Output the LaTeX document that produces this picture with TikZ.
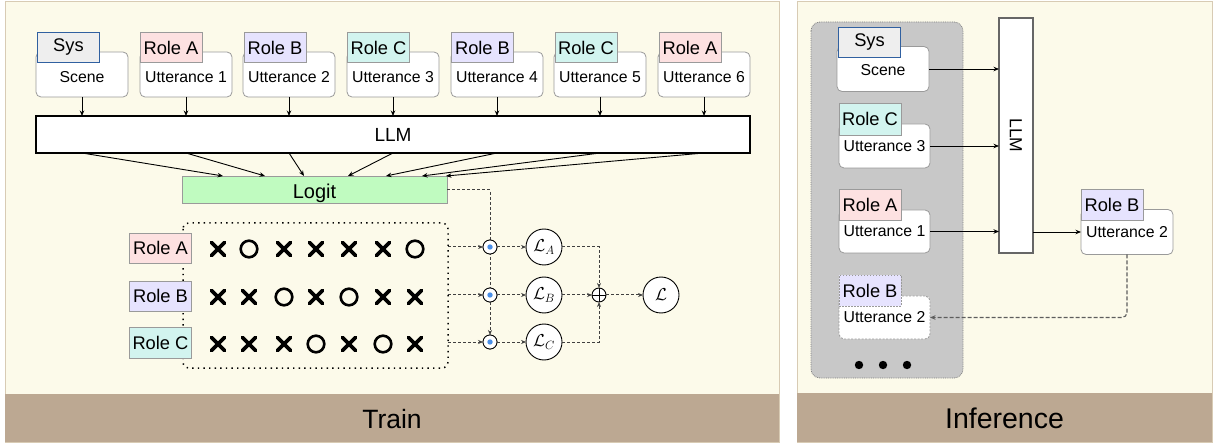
\documentclass[tikz,border=0pt]{standalone}
\usepackage{fontspec}
\setmainfont{Liberation Sans}
\usetikzlibrary{arrows.meta}
\definecolor{cream}{HTML}{FCFAEA}
\definecolor{panelline}{HTML}{D8CBB4}
\definecolor{barc}{HTML}{BCA892}
\definecolor{pinkc}{HTML}{FDE1E1}
\definecolor{purplec}{HTML}{E6E3FE}
\definecolor{cyanc}{HTML}{D2F4EF}
\definecolor{greenc}{HTML}{C0FBC0}
\definecolor{sysfill}{HTML}{EEEEEE}
\definecolor{sysline}{HTML}{3060A0}
\definecolor{boxline}{HTML}{9A9A9A}
\definecolor{grayback}{HTML}{C8C8C8}
\definecolor{dotblue}{HTML}{4A8FE7}
\definecolor{dashc}{HTML}{404040}
\tikzset{
  ubox/.style={draw=boxline, fill=white, line width=0.8pt, rounded corners=5pt, inner sep=0pt, outer sep=0pt, minimum width=92pt, minimum height=45pt, font=\fontsize{15.8}{17}\selectfont},
  lowtext/.style={text height=17pt, text depth=0pt},
  tabbox/.style={draw=boxline, line width=0.8pt, inner sep=0pt, outer sep=0pt, minimum width=62pt, minimum height=30pt, font=\fontsize{18.3}{20}\selectfont},
  systab/.style={tabbox, draw=sysline, fill=sysfill},
  arr/.style={-{Stealth[length=5.5pt,width=4.5pt]}, line width=0.9pt},
  darr/.style={-{Stealth[length=5pt,width=4pt]}, line width=1pt, draw=dashc, dash pattern=on 3pt off 2pt},
  dotc/.style={circle, draw, fill=white, line width=0.8pt, minimum size=14pt, inner sep=0pt, outer sep=0pt},
  lossc/.style={circle, draw, fill=white, line width=0.9pt, minimum size=36pt, inner sep=0pt, outer sep=0pt, font=\fontsize{18}{20}\selectfont},
  xmk/.style={line width=3.6pt, line cap=round},
  omk/.style={line width=2.6pt},
}
\newcommand{\XM}[2]{\draw[xmk] (#1-6.5,#2-6.5) -- (#1+6.5,#2+6.5) (#1-6.5,#2+6.5) -- (#1+6.5,#2-6.5);}
\newcommand{\OM}[2]{\draw[omk] (#1,#2) circle (8.3);}
\begin{document}
\begin{tikzpicture}[x=1pt,y=-1pt]
\useasboundingbox (0,0) rectangle (1214,443);
% panels
\draw[panelline, fill=cream, line width=1pt] (5,2) rectangle (779,442);
\fill[barc] (5,394) rectangle (779,442);
\node[font=\fontsize{26.5}{30}\selectfont] (trainlbl) at (392,419) {Train};
\draw[panelline, fill=cream, line width=1pt] (797,2) rectangle (1212,442);
\fill[barc] (797,393) rectangle (1212,442);
\node[font=\fontsize{28.5}{32}\selectfont] (inflbl) at (1004.5,418) {Inference};

% ---------- Train: top inputs
\node[ubox, lowtext] (b1) at (82,74.5) {Scene};
\node[ubox, lowtext] (b2) at (186,74.5) {Utterance 1};
\node[ubox, lowtext] (b3) at (289,74.5) {Utterance 2};
\node[ubox, lowtext] (b4) at (393,74.5) {Utterance 3};
\node[ubox, lowtext] (b5) at (497,74.5) {Utterance 4};
\node[ubox, lowtext] (b6) at (600,74.5) {Utterance 5};
\node[ubox, lowtext] (b7) at (704,74.5) {Utterance 6};
\node[systab] (t1) at (68.5,47) {Sys};
\node[tabbox, fill=pinkc] (t2) at (171,47.5) {Role A};
\node[tabbox, fill=purplec] (t3) at (275,47.5) {Role B};
\node[tabbox, fill=cyanc] (t4) at (378.5,47.5) {Role C};
\node[tabbox, fill=purplec] (t5) at (482.5,47.5) {Role B};
\node[tabbox, fill=cyanc] (t6) at (586,47.5) {Role C};
\node[tabbox, fill=pinkc] (t7) at (690,47.5) {Role A};

% LLM
\node[draw, fill=white, line width=1.8pt, minimum width=714pt, minimum height=37pt, inner sep=0pt, outer sep=0pt, font=\fontsize{19}{21}\selectfont] (llm) at (393,134.5) {LLM};
\foreach \i in {1,...,7} {\draw[arr] (b\i.south) -- (b\i.south |- llm.north);}

% Logit
\node[draw=boxline, fill=greenc, line width=0.8pt, minimum width=265pt, minimum height=27pt, inner sep=0pt, outer sep=0pt, font=\fontsize{20}{22}\selectfont, text height=18pt, text depth=0pt] (logit) at (314.5,189.5) {Logit};
\foreach \i/\ex in {1/223,2/265,3/304,4/348,5/386,6/422,7/446} {
  \draw[arr] (b\i.south |- llm.south) -- (\ex,176);
}

% dotted matrix box
\draw[line width=1.5pt, dash pattern=on 1.4pt off 4.2pt, rounded corners=6pt] (183,223) rectangle (448,368);
\node[tabbox, fill=pinkc] (ra) at (160.5,248) {Role A};
\node[tabbox, fill=purplec] (rb) at (160.5,296) {Role B};
\node[tabbox, fill=cyanc, minimum height=31pt] (rc) at (160.5,342.5) {Role C};

% marks
\XM{218}{249}\OM{249}{249}\XM{284}{249}\XM{316}{249}\XM{349}{249}\XM{383}{249}\OM{415}{249}
\XM{218}{297}\XM{249}{297}\OM{284}{297}\XM{316}{297}\OM{349}{297}\XM{383}{297}\XM{415}{297}
\XM{218}{344}\XM{249}{344}\XM{284}{344}\OM{316}{344}\XM{349}{344}\OM{383}{344}\XM{415}{344}

% dots and losses
\coordinate (ea) at (448,247);
\coordinate (eb) at (448,295);
\coordinate (ec) at (448,342);
\coordinate (lgturn) at (490,190);
\node[dotc] (da) at (490,247) {};
\node[dotc] (db) at (490,295) {};
\node[dotc] (dc) at (490,342) {};
\draw[darr] (logit.east |- lgturn) -- (lgturn) -- (dc.north);
\foreach \d in {da,db,dc} {
  \node[dotc] at (\d) {};
  \fill[dotblue] (\d) circle (2.7);
}
\draw[darr] (ea) -- (da.west);
\draw[darr] (eb) -- (db.west);
\draw[darr] (ec) -- (dc.west);
\node[lossc] (la) at (544,247) {$\mathcal{L}_A$};
\node[lossc] (lb) at (544,295) {$\mathcal{L}_B$};
\node[lossc] (lc) at (544,342) {$\mathcal{L}_C$};
\draw[darr] (da.east) -- (la.west);
\draw[darr] (db.east) -- (lb.west);
\draw[darr] (dc.east) -- (lc.west);
\node[circle, draw, fill=white, line width=0.9pt, minimum size=14pt, inner sep=0pt, outer sep=0pt] (plus) at (599,295) {};
\draw[line width=0.9pt] (plus.north) -- (plus.south) (plus.west) -- (plus.east);
\node[lossc] (lt) at (661,295) {$\mathcal{L}$};
\draw[darr] (la.east) -| (plus.north);
\draw[darr] (lc.east) -| (plus.south);
\draw[darr] (lb.east) -- (plus.west);
\draw[darr] (plus.east) -- (lt.west);

% ---------- Inference
\draw[draw=gray, fill=grayback, line width=0.8pt, dash pattern=on 0.8pt off 1pt, rounded corners=9pt] (811,22) rectangle (963,378);
\node[ubox, text height=13pt, text depth=0pt] (is) at (883,69) {Scene};
\node[systab] (ist) at (869.5,42) {Sys};
\node[ubox, minimum width=91pt, minimum height=44pt] (iu3) at (884.5,146) {Utterance 3};
\node[tabbox, fill=cyanc, minimum height=32pt] (iu3t) at (870,119) {Role C};
\node[ubox, minimum width=91pt, minimum height=43pt] (iu1) at (884.5,231.5) {Utterance 1};
\node[tabbox, fill=pinkc, minimum height=31pt] (iu1t) at (870,204.5) {Role A};
\node[ubox, minimum width=91pt, minimum height=43pt, dash pattern=on 2pt off 1.5pt] (iu2) at (884.5,317.5) {Utterance 2};
\node[tabbox, fill=purplec, minimum height=31pt, dash pattern=on 1.5pt off 1.5pt] (iu2t) at (870,290.5) {Role B};
\fill (859,365) circle (4.2);
\fill (883,365) circle (4.2);
\fill (907,365) circle (4.2);

\node[draw=dashc!80, fill=white, line width=1.1pt, minimum width=34pt, minimum height=235pt, inner sep=0pt, outer sep=0pt] (illm) at (1016,135.5) {};
\node[rotate=-90, font=\fontsize{17.5}{19}\selectfont] (illmtxt) at (1016,135.5) {LLM};

\node[ubox] (ro) at (1127,232) {Utterance 2};
\node[tabbox, fill=purplec, minimum height=31pt] (rot) at (1112,204.5) {Role B};

\draw[arr] (is.east) -- (is.east -| illm.west);
\draw[arr] (iu3.east) -- (iu3.east -| illm.west);
\draw[arr] (iu1.east) -- (iu1.east -| illm.west);
\draw[arr] (illm.east |- ro.west) -- (ro.west);
\draw[-{Stealth[length=5.5pt,width=4.5pt]}, line width=1.1pt, draw=dashc!85, dash pattern=on 4pt off 2pt, rounded corners=5pt] (ro.south) |- (iu2.east);
\end{tikzpicture}
\end{document}
